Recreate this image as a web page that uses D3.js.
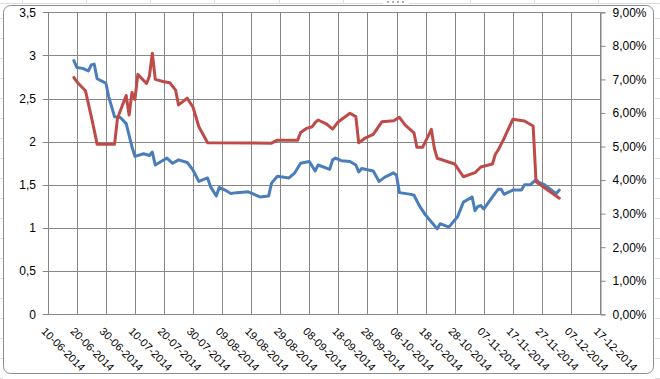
<!DOCTYPE html>
<html lang="en">
<head>
<meta charset="utf-8">
<script src="https://d3js.org/d3.v7.min.js"></script>
<style>
  body { margin: 0; background: #fff; }
  text { font-family: "Liberation Sans", Arial, sans-serif; font-size: 12px; fill: #000; }
  text.date { font-size: 11px; }
</style>
</head>
<body>
<script>
  // x axis tick labels (every 10 days)
  var xTickLabels = ["10-06-2014", "20-06-2014", "30-06-2014", "10-07-2014", "20-07-2014",
    "30-07-2014", "09-08-2014", "19-08-2014", "29-08-2014", "08-09-2014", "18-09-2014",
    "28-09-2014", "08-10-2014", "18-10-2014", "28-10-2014", "07-11-2014", "17-11-2014",
    "27-11-2014", "07-12-2014", "17-12-2014"];
  var leftTicks = [0, 0.5, 1, 1.5, 2, 2.5, 3, 3.5];
  var rightTicks = [0, 0.01, 0.02, 0.03, 0.04, 0.05, 0.06, 0.07, 0.08, 0.09];

  // blue series (left axis)
  var blueDates = ["19-06-2014", "20-06-2014", "22-06-2014", "24-06-2014", "25-06-2014", "26-06-2014",
    "27-06-2014", "30-06-2014", "01-07-2014", "03-07-2014", "05-07-2014", "07-07-2014", "09-07-2014",
    "10-07-2014", "13-07-2014", "15-07-2014", "16-07-2014", "17-07-2014", "19-07-2014", "21-07-2014",
    "23-07-2014", "25-07-2014", "28-07-2014", "30-07-2014", "01-08-2014", "04-08-2014", "05-08-2014",
    "07-08-2014", "08-08-2014", "10-08-2014", "12-08-2014", "14-08-2014", "18-08-2014", "22-08-2014",
    "25-08-2014", "26-08-2014", "28-08-2014", "01-09-2014", "03-09-2014", "05-09-2014", "08-09-2014",
    "10-09-2014", "11-09-2014", "15-09-2014", "16-09-2014", "17-09-2014", "19-09-2014", "22-09-2014",
    "24-09-2014", "25-09-2014", "26-09-2014", "30-09-2014", "02-10-2014", "04-10-2014", "07-10-2014",
    "08-10-2014", "09-10-2014", "13-10-2014", "14-10-2014", "16-10-2014", "18-10-2014", "20-10-2014",
    "22-10-2014", "23-10-2014", "26-10-2014", "29-10-2014", "31-10-2014", "03-11-2014", "04-11-2014",
    "05-11-2014", "06-11-2014", "07-11-2014", "10-11-2014", "12-11-2014", "13-11-2014", "14-11-2014",
    "17-11-2014", "20-11-2014", "21-11-2014", "23-11-2014", "25-11-2014", "26-11-2014", "28-11-2014",
    "01-12-2014", "02-12-2014", "03-12-2014"];
  var blueValues = [2.94, 2.86, 2.85, 2.82, 2.89, 2.90,
    2.73, 2.68, 2.52, 2.29, 2.28, 2.21, 1.94,
    1.83, 1.86, 1.84, 1.88, 1.73, 1.77, 1.81,
    1.75, 1.79, 1.76, 1.67, 1.54, 1.58, 1.48,
    1.37, 1.47, 1.44, 1.40, 1.41, 1.42, 1.36,
    1.37, 1.52, 1.60, 1.58, 1.64, 1.75, 1.77,
    1.66, 1.73, 1.68, 1.79, 1.81, 1.78, 1.77,
    1.73, 1.65, 1.69, 1.66, 1.54, 1.59, 1.64,
    1.61, 1.41, 1.39, 1.38, 1.25, 1.15, 1.07,
    0.99, 1.05, 1.01, 1.13, 1.30, 1.36, 1.20,
    1.25, 1.26, 1.22, 1.36, 1.45, 1.45, 1.39,
    1.44, 1.44, 1.50, 1.50, 1.56, 1.53, 1.50,
    1.42, 1.40, 1.44];

  // red series (right axis, percent)
  var redDates = ["19-06-2014", "20-06-2014", "23-06-2014", "25-06-2014", "26-06-2014", "27-06-2014",
    "03-07-2014", "04-07-2014", "07-07-2014", "08-07-2014", "09-07-2014", "10-07-2014", "11-07-2014",
    "14-07-2014", "15-07-2014", "16-07-2014", "17-07-2014", "20-07-2014", "22-07-2014", "24-07-2014",
    "25-07-2014", "28-07-2014", "30-07-2014", "01-08-2014", "04-08-2014", "26-08-2014", "28-08-2014",
    "04-09-2014", "05-09-2014", "07-09-2014", "09-09-2014", "10-09-2014", "11-09-2014", "14-09-2014",
    "16-09-2014", "18-09-2014", "22-09-2014", "24-09-2014", "25-09-2014", "27-09-2014", "30-09-2014",
    "01-10-2014", "03-10-2014", "07-10-2014", "09-10-2014", "11-10-2014", "14-10-2014", "15-10-2014",
    "17-10-2014", "20-10-2014", "21-10-2014", "22-10-2014", "28-10-2014", "31-10-2014", "04-11-2014",
    "06-11-2014", "10-11-2014", "11-11-2014", "12-11-2014", "14-11-2014", "17-11-2014", "21-11-2014",
    "24-11-2014", "25-11-2014", "03-12-2014"];
  var redValues = [7.06, 6.93, 6.66, 5.89, 5.49, 5.07,
    5.07, 5.84, 6.52, 5.94, 6.61, 6.40, 7.15,
    6.88, 7.10, 7.78, 7.00, 6.93, 6.90, 6.68,
    6.24, 6.44, 6.17, 5.59, 5.11, 5.10, 5.19,
    5.19, 5.42, 5.54, 5.59, 5.71, 5.79, 5.67,
    5.52, 5.74, 5.99, 5.89, 5.11, 5.24, 5.36,
    5.49, 5.74, 5.77, 5.87, 5.64, 5.41, 4.98,
    4.98, 5.51, 4.95, 4.65, 4.48, 4.10, 4.22,
    4.39, 4.48, 4.77, 4.90, 5.24, 5.81, 5.76,
    5.61, 3.95, 3.46];

  var width = 660, height = 379;
  var plotLeft = 47.7, plotRight = 600, plotTop = 12.3, plotBottom = 314.3;
  var parse = d3.timeParse("%d-%m-%Y");

  var svg = d3.select("body").append("svg")
      .attr("width", width)
      .attr("height", height);

  // spreadsheet behind the chart
  svg.append("rect").attr("width", width).attr("height", height).attr("fill", "#ffffff");
  var sheet = svg.append("g").attr("stroke", "#dadcdd").attr("stroke-width", 1);
  sheet.append("line").attr("x1", 0).attr("x2", width).attr("y1", 3.5).attr("y2", 3.5);
  [22, 86, 150, 214, 279, 343, 470, 534, 598].forEach(function(x) {
    sheet.append("line").attr("x1", x + 0.5).attr("x2", x + 0.5).attr("y1", 0).attr("y2", 4);
  });
  d3.range(18, height, 20).forEach(function(y) {
    sheet.append("line").attr("x1", 0).attr("x2", 3).attr("y1", y + 0.5).attr("y2", y + 0.5);
    sheet.append("line").attr("x1", 655).attr("x2", width).attr("y1", y + 0.5).attr("y2", y + 0.5);
  });
  svg.append("rect").attr("x", 383).attr("y", 0).attr("width", 26).attr("height", 4)
      .attr("fill", "#ffffff");
  [387, 392, 397, 402].forEach(function(x) {
    svg.append("rect").attr("x", x).attr("y", 1).attr("width", 2).attr("height", 2)
        .attr("fill", "#b0b0b0");
  });

  // chart area
  svg.append("rect")
      .attr("x", 3.5).attr("y", 5.5)
      .attr("width", 650).attr("height", 368)
      .attr("rx", 7)
      .attr("fill", "#ffffff")
      .attr("stroke", "#8c8c8c")
      .attr("stroke-width", 1);

  // scales
  var xScale = d3.scaleTime()
      .domain([parse(xTickLabels[0]), parse(xTickLabels[xTickLabels.length - 1])])
      .range([plotLeft, plotRight]);
  var yLeft = d3.scaleLinear().domain([0, 3.5]).range([plotBottom, plotTop]);
  var yRight = d3.scaleLinear().domain([0, 0.09]).range([plotBottom, plotTop]);

  var grid = svg.append("g").attr("stroke", "#868686").attr("stroke-width", 1);
  // horizontal gridlines (with small outside ticks on the left)
  grid.selectAll("line.h")
      .data(leftTicks)
      .enter()
      .append("line")
      .attr("x1", plotLeft - 5)
      .attr("x2", plotRight)
      .attr("y1", function(d) { return Math.round(yLeft(d)) + 0.5; })
      .attr("y2", function(d) { return Math.round(yLeft(d)) + 0.5; });
  // vertical gridlines
  grid.selectAll("line.v")
      .data(xTickLabels)
      .enter()
      .append("line")
      .attr("x1", function(d) { return Math.round(xScale(parse(d))) + 0.5; })
      .attr("x2", function(d) { return Math.round(xScale(parse(d))) + 0.5; })
      .attr("y1", plotTop)
      .attr("y2", plotBottom + 0.5);

  // left axis labels
  svg.append("g")
      .selectAll("text")
      .data(leftTicks)
      .enter()
      .append("text")
      .attr("x", 36)
      .attr("y", function(d) { return yLeft(d); })
      .attr("dy", "0.35em")
      .attr("text-anchor", "end")
      .text(function(d) { return String(d).replace(".", ","); });

  // right axis with outside ticks
  var rightAxis = d3.axisRight(yRight)
      .tickValues(rightTicks)
      .tickSize(5)
      .tickPadding(7)
      .tickFormat(function(d) { return (d * 100).toFixed(2).replace(".", ",") + "%"; });
  var ra = svg.append("g")
      .attr("transform", "translate(" + (plotRight + 0.5) + ",0)")
      .call(rightAxis);
  ra.select(".domain").attr("stroke", "#868686");
  ra.selectAll(".tick line").attr("stroke", "#868686");
  ra.selectAll(".tick text")
      .style("font-family", "'Liberation Sans', Arial, sans-serif")
      .style("font-size", "12px")
      .attr("fill", "#000");

  // rotated date labels
  svg.append("g")
      .selectAll("text")
      .data(xTickLabels)
      .enter()
      .append("text")
      .attr("class", "date")
      .attr("transform", function(d) {
        return "translate(" + (xScale(parse(d)) - 7) + ",332) rotate(45)";
      })
      .text(function(d) { return d; });

  // lines
  var blueData = blueDates.map(function(d, i) { return { date: parse(d), value: blueValues[i] }; });
  var redData = redDates.map(function(d, i) { return { date: parse(d), value: redValues[i] / 100 }; });

  var blueLine = d3.line()
      .x(function(d) { return xScale(d.date); })
      .y(function(d) { return yLeft(d.value); });
  var redLine = d3.line()
      .x(function(d) { return xScale(d.date); })
      .y(function(d) { return yRight(d.value); });

  svg.append("path")
      .datum(blueData)
      .attr("d", blueLine)
      .attr("fill", "none")
      .attr("stroke", "#4a7ebb")
      .attr("stroke-width", 3)
      .attr("stroke-linejoin", "round")
      .attr("stroke-linecap", "round");

  svg.append("path")
      .datum(redData)
      .attr("d", redLine)
      .attr("fill", "none")
      .attr("stroke", "#be4b48")
      .attr("stroke-width", 3)
      .attr("stroke-linejoin", "round")
      .attr("stroke-linecap", "round");
</script>
</body>
</html>
